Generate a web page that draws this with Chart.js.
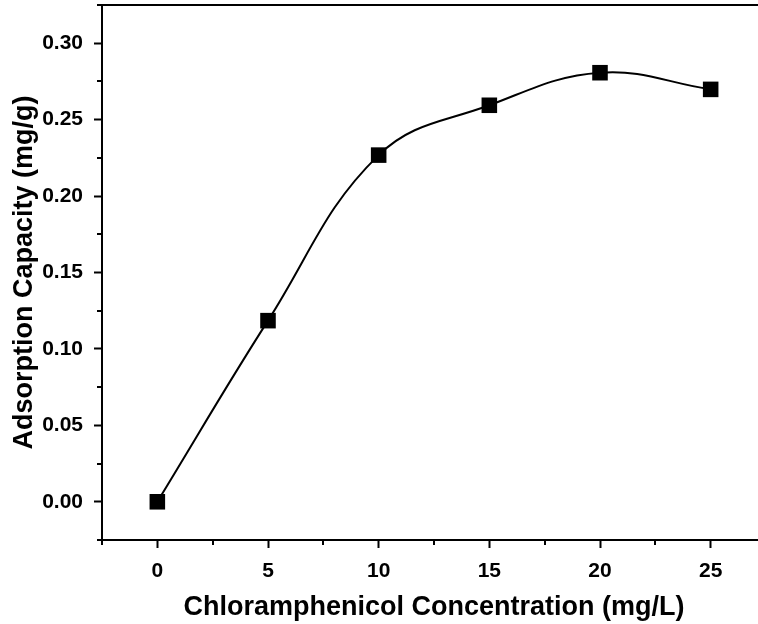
<!DOCTYPE html>
<html>
<head>
<meta charset="utf-8">
<script src="https://cdn.jsdelivr.net/npm/chart.js@4/dist/chart.umd.min.js"></script>
<style>
  html, body { margin: 0; padding: 0; background: #fff; overflow: hidden; }
  #wrap { width: 766px; height: 624px; }
</style>
</head>
<body>
<div id="wrap"><canvas id="myChart" width="766" height="624"></canvas></div>
<script>
const concentrations = [0, 5, 10, 15, 20, 25];
const capacities = [0.000, 0.1185, 0.2268, 0.2594, 0.2807, 0.2698];

const xTicks = [0, 5, 10, 15, 20, 25];
const xMinorTicks = [-2.5, 2.5, 7.5, 12.5, 17.5, 22.5, 27.5];
const yTicks = [0.00, 0.05, 0.10, 0.15, 0.20, 0.25, 0.30];
const yMinorTicks = [-0.025, 0.025, 0.075, 0.125, 0.175, 0.225, 0.275, 0.325];

const fontFamily = '"Liberation Sans", Arial, sans-serif';

// small ticks between the labelled ones
const minorTicks = {
    id: 'minorTicks',
    afterDraw(chart) {
        const ctx = chart.ctx;
        const x = chart.scales.x;
        const y = chart.scales.y;
        ctx.save();
        ctx.strokeStyle = '#000';
        ctx.lineWidth = 2;
        ctx.beginPath();
        xMinorTicks.forEach(function (v) {
            const px = Math.round(x.getPixelForValue(v));
            ctx.moveTo(px, chart.chartArea.bottom);
            ctx.lineTo(px, chart.chartArea.bottom + 5);
        });
        yMinorTicks.forEach(function (v) {
            const py = Math.round(y.getPixelForValue(v));
            ctx.moveTo(chart.chartArea.left, py);
            ctx.lineTo(chart.chartArea.left - 5, py);
        });
        ctx.stroke();
        ctx.restore();
    }
};

const ctx = document.getElementById('myChart');

new Chart(ctx, {
    type: 'line',
    data: {
        datasets: [{
            data: concentrations.map(function (c, i) {
                return { x: c, y: capacities[i] };
            }),
            borderColor: '#000',
            backgroundColor: '#000',
            borderWidth: 2,
            tension: 0.4,
            pointStyle: 'rect',
            pointRadius: 11,
            pointBorderWidth: 0,
            pointHoverRadius: 11
        }]
    },
    options: {
        responsive: false,
        animation: false,
        layout: { padding: 0, autoPadding: false },
        plugins: {
            legend: { display: false },
            tooltip: { enabled: false }
        },
        scales: {
            x: {
                type: 'linear',
                position: 'bottom',
                min: -2.5,
                max: 27.5,
                afterBuildTicks: function (scale) {
                    scale.ticks = xTicks.map(function (v) { return { value: v }; });
                },
                afterFit: function (scale) {
                    scale.height = 84;
                    scale.paddingLeft = 0;
                    scale.paddingRight = 0;
                },
                grid: {
                    drawOnChartArea: false,
                    drawTicks: true,
                    tickLength: 8,
                    tickWidth: 2,
                    tickColor: '#000'
                },
                border: { display: true, color: '#000', width: 2 },
                ticks: {
                    color: '#000',
                    padding: 11,
                    maxRotation: 0,
                    font: { family: fontFamily, size: 21, weight: 'bold' },
                    callback: function (value) { return value; }
                },
                title: {
                    display: true,
                    text: 'Chloramphenicol Concentration (mg/L)',
                    color: '#000',
                    padding: { top: 0, bottom: 0 },
                    font: { family: fontFamily, size: 27, weight: 'bold' }
                }
            },
            x2: {
                type: 'linear',
                position: 'top',
                min: -2.5,
                max: 27.5,
                afterFit: function (scale) {
                    scale.height = 5;
                    scale.paddingLeft = 0;
                    scale.paddingRight = 0;
                },
                grid: { display: false },
                ticks: { display: false },
                border: { display: true, color: '#000', width: 2 }
            },
            y: {
                type: 'linear',
                min: -0.025,
                max: 0.325,
                afterBuildTicks: function (scale) {
                    scale.ticks = yTicks.map(function (v) { return { value: v }; });
                },
                afterFit: function (scale) {
                    scale.width = 102;
                    scale.paddingTop = 0;
                    scale.paddingBottom = 0;
                },
                grid: {
                    drawOnChartArea: false,
                    drawTicks: true,
                    tickLength: 8,
                    tickWidth: 2,
                    tickColor: '#000'
                },
                border: { display: true, color: '#000', width: 2 },
                ticks: {
                    color: '#000',
                    padding: 11,
                    font: { family: fontFamily, size: 21, weight: 'bold' },
                    callback: function (value) { return value.toFixed(2); }
                },
                title: {
                    display: true,
                    text: 'Adsorption Capacity (mg/g)',
                    color: '#000',
                    padding: { top: 8, bottom: 0 },
                    font: { family: fontFamily, size: 27, weight: 'bold' }
                }
            }
        }
    },
    plugins: [minorTicks]
});
</script>
</body>
</html>
